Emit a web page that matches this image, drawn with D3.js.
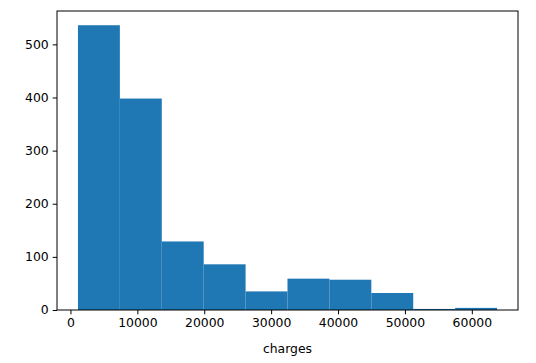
<!DOCTYPE html>
<html>
<head>
<meta charset="utf-8">
<script src="https://cdn.jsdelivr.net/npm/d3@7"></script>
<style>
  body { margin: 0; background: #fff; }
  text { font-family: "DejaVu Sans", sans-serif; fill: #000; }
</style>
</head>
<body>
<svg id="chart" width="536" height="363"></svg>
<script>
// histogram of charges, 10 bins
var binEdges = [1121.87, 7386.73, 13651.59, 19916.44, 26181.30, 32446.16,
                38711.01, 44975.87, 51240.72, 57505.58, 63770.43];
var counts = [536, 398, 129, 86, 35, 59, 57, 32, 2, 4];
var xTicks = [0, 10000, 20000, 30000, 40000, 50000, 60000];
var yTicks = [0, 100, 200, 300, 400, 500];

var svg = d3.select("#chart"),
    margin = {top: 11, right: 18, bottom: 53, left: 57},
    width = 536 - margin.left - margin.right,
    height = 363 - margin.top - margin.bottom,
    g = svg.append("g").attr("transform", "translate(" + margin.left + "," + margin.top + ")");

var bins = counts.map(function(c, i) {
  return {x0: binEdges[i], x1: binEdges[i + 1], count: c};
});

// matplotlib style 5% margins
var xMin = binEdges[0], xMax = binEdges[binEdges.length - 1];
var pad = (xMax - xMin) * 0.05;
var x = d3.scaleLinear().domain([xMin - pad, xMax + pad]).range([0, width]);
var y = d3.scaleLinear().domain([0, d3.max(counts) * 1.05]).range([height, 0]);

g.selectAll(".bar")
  .data(bins)
  .enter().append("rect")
    .attr("class", "bar")
    .attr("x", function(d) { return x(d.x0); })
    .attr("width", function(d) { return x(d.x1) - x(d.x0); })
    .attr("y", function(d) { return y(d.count); })
    .attr("height", function(d) { return height - y(d.count); })
    .attr("fill", "#1f77b4");

var xAxis = g.append("g")
    .attr("transform", "translate(0," + height + ")")
    .call(d3.axisBottom(x).tickValues(xTicks).tickFormat(d3.format("d")).tickSize(4.3).tickPadding(4));

var yAxis = g.append("g")
    .call(d3.axisLeft(y).tickValues(yTicks).tickFormat(d3.format("d")).tickSize(4.3).tickPadding(4));

[xAxis, yAxis].forEach(function(a) {
  a.select(".domain").remove();
  a.selectAll("line").attr("stroke", "#000").attr("stroke-width", 1);
  a.selectAll("text").style("font-size", "12.4px").attr("fill", "#000");
});

// frame
g.append("rect")
    .attr("x", 0).attr("y", 0)
    .attr("width", width).attr("height", height)
    .attr("fill", "none")
    .attr("stroke", "#000")
    .attr("stroke-width", 1);

g.append("text")
    .attr("x", width / 2)
    .attr("y", height + 43)
    .attr("text-anchor", "middle")
    .style("font-size", "12.4px")
    .text("charges");
</script>
</body>
</html>
